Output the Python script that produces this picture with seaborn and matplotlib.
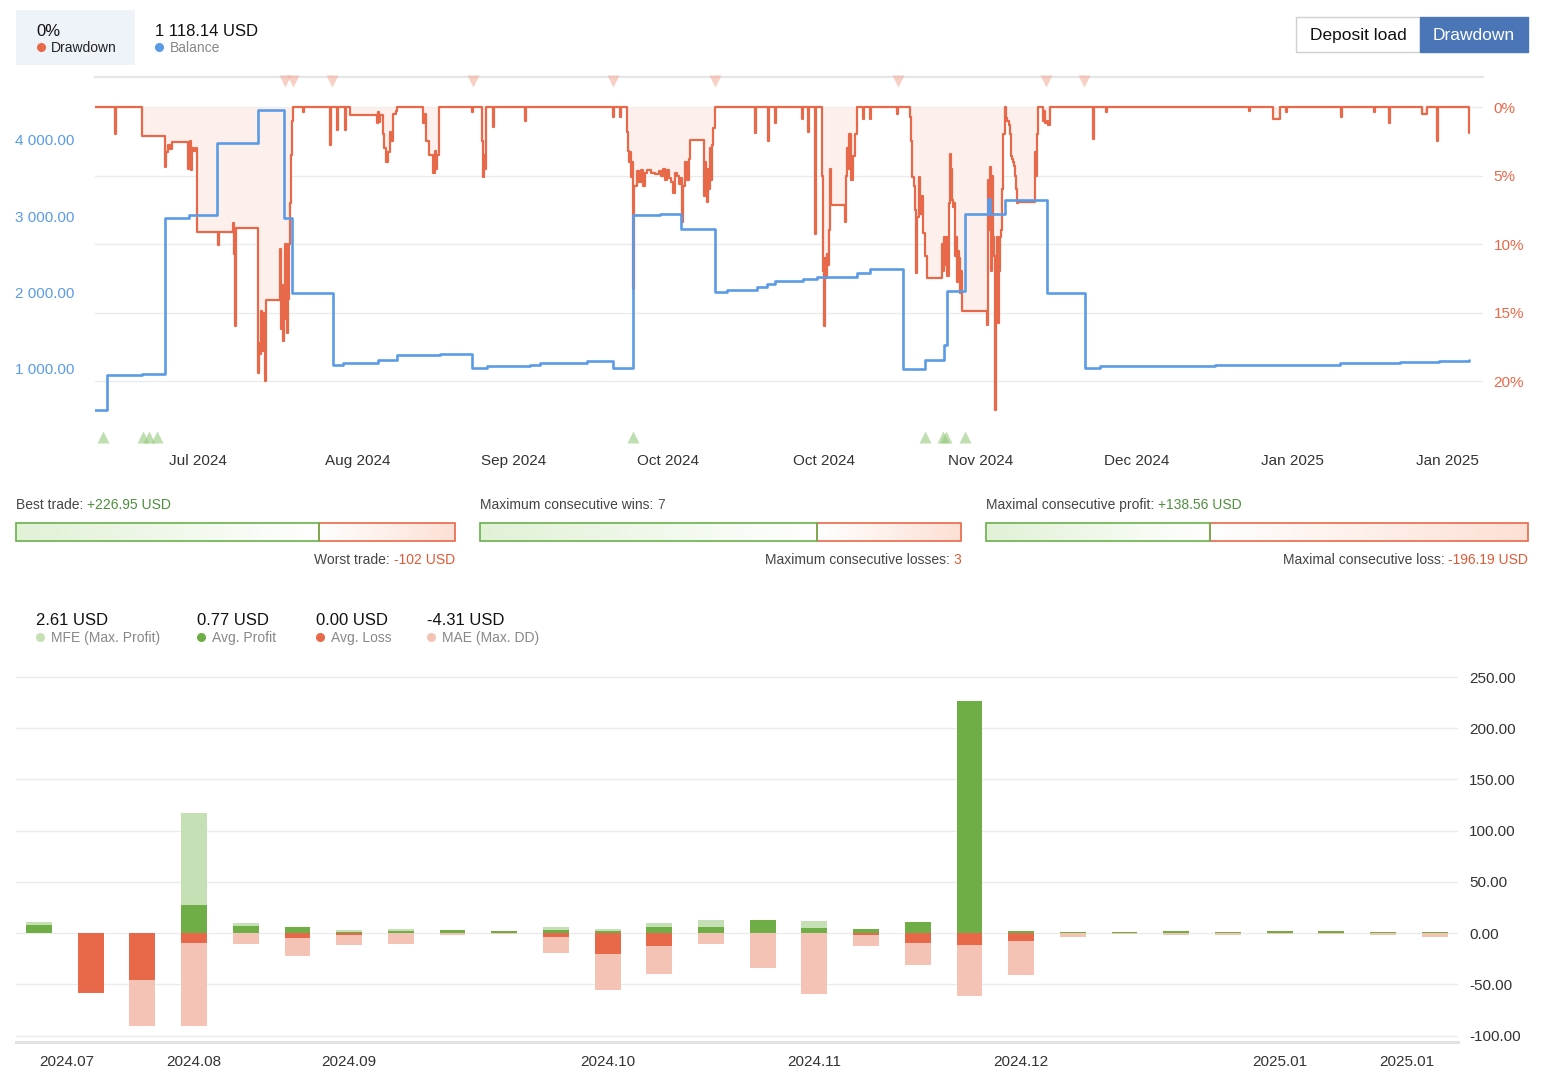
import numpy as np
import matplotlib
matplotlib.use("Agg")
import matplotlib.pyplot as plt
import matplotlib.transforms as mtransforms
from matplotlib.lines import Line2D
from matplotlib.patches import Rectangle
from matplotlib.text import Annotation
from matplotlib.colors import LinearSegmentedColormap
import seaborn as sns

# ---------------------------------------------------------------- data
# Top chart: position along the test period (time index) -> balance (USD)
balance_t = [0, 6, 23.5, 35, 47, 61, 81.5, 94.5, 98.5, 119, 124, 141.5, 151, 172.5,
             188.5, 196, 217.5, 222.5, 246, 259, 269, 282.5, 293, 310, 316, 331, 336,
             340, 354, 361, 381, 387.5, 404, 415, 424.5, 426, 435, 446.5, 447.5, 455,
             476, 495, 502.5, 560, 592.5, 622.5, 652.5, 672, 687]
balance_usd = [455, 922, 930, 2978, 3022, 3963, 4386, 2978, 1997, 1052, 1075, 1118,
               1183, 1196, 1009, 1039, 1052, 1074, 1096, 1009, 3013, 3026, 2830, 2011,
               2033, 2076, 2110, 2154, 2172, 2207, 2259, 2311, 996, 1118, 1314, 2020,
               3035, 3231, 3035, 3209, 1997, 1009, 1039, 1045, 1052, 1070, 1090, 1100, 1110]

# Top chart: drawdown (%) series, (time index, drawdown %)
drawdown_points = [
    (0, 0), (10, 1.94), (10.5, 0), (23.7, 2.1),
    (35, 4.4), (35.5, 3.3), (36.5, 2.8), (37.5, 3.1), (38.5, 2.55),
    (46.7, 4.5), (47.5, 2.5), (48, 4.6), (48.5, 3.0), (49.5, 3.2), (50.3, 3.0),
    (50.8, 9.1), (61.3, 10.1), (61.8, 9.1),
    (68.8, 8.5), (69.3, 10.7), (70, 16.0), (70.5, 8.8),
    (81.3, 19.4), (82, 17.2), (82.5, 18.0), (83, 14.9), (83.5, 17.8), (84, 15.0), (85, 20.0), (85.5, 14.1),
    (92.5, 10.4), (93, 16.2), (93.5, 13.0), (94, 17.1), (94.5, 15.5), (95, 10.0), (96, 16.5),
    (96.5, 14.0), (97, 10.0), (97.5, 7.0), (98, 3.5), (98.5, 1.0), (99, 0),
    (104.2, 0.4), (104.7, 0), (117.5, 2.8), (118, 0), (120.8, 1.7), (121.3, 0),
    (125, 1.7), (125.5, 0), (127.5, 0.56),
    (140.8, 1.2), (141.5, 0.4), (142, 1.1), (142.5, 0.6), (143.8, 2.0), (144.5, 3.0), (145.5, 4.0),
    (146.5, 3.3), (147.5, 1.8), (148, 2.5), (149, 0.5), (150.3, 0.3), (150.8, 0),
    (164.2, 1.2), (165, 0.5), (165.5, 2.5), (167, 3.5), (169.2, 4.85), (170, 3.2), (170.5, 4.5),
    (171, 3.5), (172, 0),
    (188.3, 0.4), (188.8, 0), (193.3, 2.5), (194, 5.1), (194.5, 3.5), (195, 4.5), (195.5, 0),
    (199.2, 1.45), (199.7, 0), (215, 1.0), (215.5, 0),
    (258.8, 0.75), (259.3, 0), (262.5, 0.75), (263, 0),
    (265.8, 1.8), (266.5, 3.2), (267, 4.0), (267.5, 3.3), (268, 5.1), (268.5, 4.0), (269, 13.3), (269.5, 5.8),
    (271, 4.7), (272, 5.5), (273, 4.6), (274, 5.8), (275, 4.8), (276, 4.6), (278, 4.8), (280, 4.9),
    (282, 4.7), (283, 5.0), (284, 4.5), (285, 5.3), (286, 4.6), (287, 5.2), (288, 5.5), (289, 6.3),
    (290, 4.8), (291, 5.0), (292, 5.6), (293, 5.2),
    (293.3, 8.4), (294, 5.8), (295, 4.0), (296, 5.3), (297, 3.8), (297.5, 2.4),
    (304.5, 6.5), (305, 4.0), (305.5, 5.5), (306, 6.9), (306.5, 4.5), (307, 6.0), (307.5, 3.0),
    (308, 5.3), (308.5, 2.8), (309, 1.5), (310, 0),
    (330, 1.9), (330.5, 0), (336.7, 2.5), (337.2, 0), (340, 1.2), (340.5, 0),
    (353.3, 0.85), (353.8, 0), (356.7, 1.8), (357.2, 0), (360, 9.3), (360.5, 0),
    (363.3, 0.6), (363.5, 5.0), (364, 12.0), (364.5, 16.0), (365, 11.0), (365.5, 12.5), (366, 10.7),
    (366.5, 11.5), (367, 9.0), (367.5, 4.5), (368, 7.15),
    (375, 8.4), (375.5, 5.0), (376, 3.0), (376.5, 4.5), (377, 2.0), (378, 5.3), (379, 3.6), (380, 2.0), (381, 0),
    (384.2, 0.85), (384.7, 0), (387.5, 0.85), (388, 0), (400.8, 0.5), (401.3, 0),
    (407.5, 0.7), (408, 2.5), (408.5, 5.1), (409.5, 5.8), (410, 7.5), (410.5, 12.1), (411, 8.0),
    (412, 5.1), (412.5, 7.8), (413, 6.5), (414, 9.2), (415, 10.9), (416, 12.5),
    (423.3, 10.0), (424, 12.0), (424.5, 9.5), (425, 11.5), (425.5, 9.5), (426, 12.3), (427, 7.0),
    (427.5, 3.4), (428, 4.5), (428.5, 6.8), (429, 7.3), (429.5, 7.0), (430, 10.9), (430.5, 9.5),
    (431, 12.8), (431.5, 10.5), (432, 11.0), (432.5, 13.6), (433, 12.0), (433.5, 14.9),
    (445.8, 15.9), (446.3, 5.3), (446.8, 9.0), (447.3, 4.4), (447.8, 12.0), (448.3, 5.0), (448.8, 9.5),
    (449.3, 10.9), (450, 22.1), (450.5, 15.0), (451, 9.5), (451.5, 15.8), (452, 12.0), (452.5, 9.5),
    (453, 9.0), (453.5, 6.0), (454, 2.0), (455, 0),
    (455.5, 0.8), (456, 1.0), (457, 1.3), (457.5, 2.0), (458, 3.6), (458.5, 3.8), (459, 4.0),
    (459.5, 4.3), (460, 5.0), (460.5, 6.0), (461, 7.0), (461.5, 6.9),
    (470.2, 3.3), (470.7, 5.0), (471.2, 2.0), (471.7, 0),
    (474.2, 1.0), (474.7, 0.3), (475.2, 1.2), (476, 1.0), (476.5, 1.3), (477.5, 0),
    (499, 2.3), (499.5, 0), (505.5, 0.4), (506, 0), (577.1, 0.3), (577.6, 0),
    (589, 0.85), (592.7, 0), (595.5, 0.4), (596, 0), (623, 0.75), (623.5, 0),
    (639.6, 0.4), (640.1, 0), (646.9, 1.2), (647.4, 0), (663.4, 0.5), (666.2, 0),
    (670.8, 2.5), (671.3, 0), (686.5, 0), (687, 1.9),
]

# trade markers (time index)
exit_marks_t = [95, 98.9, 118.7, 188.9, 259.2, 310, 401.7, 475.7, 494.5]
entry_marks_t = [3.8, 24.2, 27, 30.8, 269.2, 415, 424.2, 425.5, 435]

top_tick_pos = [51.5, 131.5, 209.5, 286.5, 364.5, 443, 521, 598.5, 676]
top_tick_labels = ["Jul 2024", "Aug 2024", "Sep 2024", "Oct 2024", "Oct 2024",
                   "Nov 2024", "Dec 2024", "Jan 2025", "Jan 2025"]
balance_ticks = [1000, 2000, 3000, 4000]
drawdown_ticks = [0, 5, 10, 15, 20]

header_drawdown = "0%"
header_balance = "1 118.14 USD"

# statistics
best_trade = 226.95
worst_trade = -102
max_cons_wins = 7
max_cons_losses = 3
max_cons_profit = 138.56
max_cons_loss = -196.19

# bottom chart: weekly MFE / average profit / average loss / MAE (USD)
mfe = [10.7, 0, 0, 117.2, 9.8, 6.2, 3.3, 4.2, 3.3, 2.0, 5.9, 4.2, 9.8, 13.0,
       13.0, 12.0, 3.9, 11.1, 226.9, 1.6, 1.3, 0.7, 1.6, 1.0, 2.0, 1.6, 0.7, 1.0]
avg_profit = [7.5, 0, 0, 27.0, 6.5, 6.2, 1.3, 2.3, 3.3, 2.0, 2.9, 2.3, 6.2, 6.2,
              13.0, 4.6, 3.9, 11.1, 226.9, 1.6, 1.3, 0.7, 1.6, 1.0, 2.0, 1.6, 0.7, 1.0]
avg_loss = [0, -58.0, -45.5, -9.5, 0, -4.6, -1.6, 0, 0, 0, -3.9, -20.2, -13.0, 0,
            0, 0, -2.0, -10.1, -11.4, -8.1, 0, 0, 0, 0, 0, 0, 0, 0]
mae = [0, -58.0, -90.5, -90.5, -10.7, -22.8, -11.4, -10.4, -2.0, -1.0, -19.5, -56.0,
       -40.0, -10.7, -33.9, -59.2, -12.4, -31.3, -61.8, -40.7, -3.9, -0.7, -2.3, -2.3,
       -1.0, -1.3, -2.3, -4.2]
week_tick_idx = [0, 3, 6, 11, 15, 19, 24, 27]
week_tick_labels = ["2024.07", "2024.08", "2024.09", "2024.10", "2024.11",
                    "2024.12", "2025.01", "2025.01"]
bar_ticks = [-100, -50, 0, 50, 100, 150, 200, 250]
summary_values = ["2.61 USD", "0.77 USD", "0.00 USD", "-4.31 USD"]
summary_names = ["MFE (Max. Profit)", "Avg. Profit", "Avg. Loss", "MAE (Max. DD)"]

# ---------------------------------------------------------------- style
BLUE = "#5b9be6"
ORANGE = "#e8694a"
GREEN = "#6fae47"
LGREEN = "#c5e0b4"
PINK = "#f4c3b6"
TXT = "#444444"
GREY = "#888888"

sns.set_style("white")
plt.rcParams["font.family"] = ["Liberation Sans", "DejaVu Sans"]

W, H = 1546, 1079
fig = plt.figure(figsize=(W / 100, H / 100), dpi=100)
fig.patch.set_facecolor("white")


def fx(px):
    return px / W


def fy(py):
    return 1 - py / H


def rect(l, t, r, b):
    return [l / W, 1 - b / H, (r - l) / W, (b - t) / H]


def dot(px, py, color):
    fig.add_artist(Line2D([fx(px)], [fy(py)], marker="o", ms=5.5, color=color,
                          lw=0, transform=fig.transFigure))


def fmt_thousands(v):
    return f"{v:,.2f}".replace(",", " ")


# ---------------------------------------------------------------- header
fig.add_artist(Rectangle((fx(16), fy(65)), fx(135) - fx(16), fy(10) - fy(65),
                         transform=fig.transFigure, fc="#eef2f9", ec="none"))
fig.text(fx(36), fy(31.5), header_drawdown, fontsize=12, color="#111111", va="center")
dot(41, 47, ORANGE)
fig.text(fx(51), fy(48), "Drawdown", fontsize=10, color="#222222", va="center")
fig.text(fx(155), fy(31.5), header_balance, fontsize=12, color="#111111", va="center")
dot(159, 47, BLUE)
fig.text(fx(170), fy(48), "Balance", fontsize=10, color=GREY, va="center")

# buttons
fig.add_artist(Rectangle((fx(1296), fy(52)), fx(1420) - fx(1296), fy(17) - fy(52),
                         transform=fig.transFigure, fc="white", ec="#d0d0d0", lw=1))
fig.text(fx(1358), fy(35.5), "Deposit load", fontsize=12.5, color="#111111",
         ha="center", va="center")
fig.add_artist(Rectangle((fx(1420), fy(52)), fx(1528) - fx(1420), fy(17) - fy(52),
                         transform=fig.transFigure, fc="#4a76b8", ec="#4a76b8", lw=1))
fig.text(fx(1474), fy(35.5), "Drawdown", fontsize=12.5, color="white",
         ha="center", va="center")

# ---------------------------------------------------------------- top chart
ax_dd = fig.add_axes(rect(95, 77, 1483, 445))
ax_bal = ax_dd.twinx()

dd_t = [p[0] for p in drawdown_points]
dd_v = [p[1] for p in drawdown_points]

ax_dd.fill_between(dd_t, 0, dd_v, step="post", color="#fdf0ec", lw=0, zorder=1)
sns.lineplot(x=dd_t, y=dd_v, ax=ax_dd, estimator=None, sort=False,
             drawstyle="steps-post", color=ORANGE, lw=1.6, zorder=3)
sns.lineplot(x=balance_t, y=balance_usd, ax=ax_bal, estimator=None, sort=False,
             drawstyle="steps-post", color=BLUE, lw=1.9, zorder=3)

ax_dd.set_xlim(0, 694)
ax_dd.set_ylim(24.67, -2.19)
ax_bal.set_ylim(0, 4825)

ax_dd.yaxis.tick_right()
ax_dd.set_yticks(drawdown_ticks, [f"{v}%" for v in drawdown_ticks])
ax_dd.tick_params(axis="y", length=0, pad=7.5, labelsize=11, labelcolor=ORANGE)
ax_bal.yaxis.tick_left()
ax_bal.set_yticks(balance_ticks, [fmt_thousands(v) for v in balance_ticks])
ax_bal.tick_params(axis="y", length=0, pad=15, labelsize=11, labelcolor=BLUE)

ax_dd.set_xticks(top_tick_pos, top_tick_labels)
ax_dd.tick_params(axis="x", length=0, pad=6.5, labelsize=11, labelcolor="#333333")
ax_dd.grid(axis="y", color="#ebebeb", lw=1)
ax_dd.grid(axis="x", visible=False)
ax_bal.grid(False)
ax_dd.set_axisbelow(True)
for s in ["left", "right", "bottom"]:
    ax_dd.spines[s].set_visible(False)
ax_dd.spines["top"].set_color("#e6e6e6")
ax_dd.spines["top"].set_linewidth(1.6)
for s in ax_bal.spines.values():
    s.set_visible(False)
ax_dd.set_xlabel("")
ax_dd.set_ylabel("")
ax_bal.set_ylabel("")

blend = mtransforms.blended_transform_factory(ax_dd.transData, ax_dd.transAxes)
ax_dd.plot(exit_marks_t, [0.988] * len(exit_marks_t), transform=blend, ls="none",
           marker="v", ms=8.5, color="#f2a994", alpha=0.55, mec="none", clip_on=False, zorder=5)
ax_dd.plot(entry_marks_t, [0.022] * len(entry_marks_t), transform=blend, ls="none",
           marker="^", ms=8.5, color="#94c97c", alpha=0.6, mec="none", clip_on=False, zorder=5)

# ---------------------------------------------------------------- ratio bars
cmap_g = LinearSegmentedColormap.from_list("g", ["#e1f1d6", "#ffffff"])
cmap_r = LinearSegmentedColormap.from_list("r", ["#ffffff", "#fde0d5"])
grad = np.linspace(0, 1, 256).reshape(1, -1)


def ratio_bar(l, r, good, bad):
    ax = fig.add_axes(rect(l, 523, r, 541))
    total = good + bad
    ax.imshow(grad, extent=(0, good, -0.5, 0.5), aspect="auto", cmap=cmap_g, zorder=1)
    ax.imshow(grad, extent=(good, total, -0.5, 0.5), aspect="auto", cmap=cmap_r, zorder=1)
    ax.barh(0, bad, left=good, height=1, fc="none", ec=ORANGE, lw=1.2, clip_on=False, zorder=2)
    ax.barh(0, good, left=0, height=1, fc="none", ec="#6ab04c", lw=1.2, clip_on=False, zorder=3)
    ax.set_xlim(0, total)
    ax.set_ylim(-0.5, 0.5)
    ax.axis("off")


def label_left(px, py, label, value, vcolor):
    t1 = fig.text(fx(px), fy(py), label, ha="left", va="center", fontsize=10, color=TXT)
    fig.add_artist(Annotation(value, xy=(1, 0), xycoords=t1, ha="left", va="bottom",
                              fontsize=10, color=vcolor))


def label_right(px, py, label, value, vcolor):
    t1 = fig.text(fx(px), fy(py), value, ha="right", va="center", fontsize=10, color=vcolor)
    fig.add_artist(Annotation(label, xy=(0, 0), xycoords=t1, ha="right", va="bottom",
                              fontsize=10, color=TXT))


VGREEN = "#4f8f3c"
VRED = "#e05a38"
ratio_bar(16, 455, best_trade, abs(worst_trade))
label_left(16, 505, "Best trade: ", f"+{best_trade:.2f} USD", VGREEN)
label_right(455, 560, "Worst trade: ", f"{worst_trade} USD", VRED)

ratio_bar(480, 961, max_cons_wins, max_cons_losses)
label_left(480, 505, "Maximum consecutive wins: ", f"{max_cons_wins}", "#555555")
label_right(961, 560, "Maximum consecutive losses: ", f"{max_cons_losses}", VRED)

ratio_bar(986, 1528, max_cons_profit, abs(max_cons_loss))
label_left(986, 505, "Maximal consecutive profit: ", f"+{max_cons_profit:.2f} USD", VGREEN)
label_right(1528, 560, "Maximal consecutive loss: ", f"{max_cons_loss:.2f} USD", VRED)

# ---------------------------------------------------------------- bottom legend
leg_x = [36, 197, 316, 427]
leg_c = [LGREEN, GREEN, ORANGE, PINK]
for x, v, n, c in zip(leg_x, summary_values, summary_names, leg_c):
    fig.text(fx(x), fy(620.5), v, fontsize=12, color="#111111", va="center")
    dot(x + 4, 637, c)
    fig.text(fx(x + 15), fy(638), n, fontsize=10, color=GREY, va="center")

# ---------------------------------------------------------------- bottom chart
ax_b = fig.add_axes(rect(16, 676, 1458, 1042))
weeks = list(range(len(mfe)))
common = dict(width=0.5, saturation=1, errorbar=None, ax=ax_b, linewidth=0)
sns.barplot(x=weeks, y=mfe, color=LGREEN, zorder=2, **common)
sns.barplot(x=weeks, y=avg_profit, color=GREEN, zorder=3, **common)
sns.barplot(x=weeks, y=mae, color=PINK, zorder=2, **common)
sns.barplot(x=weeks, y=avg_loss, color=ORANGE, zorder=3, **common)

ax_b.set_xlim(-0.445, 27.45)
ax_b.set_ylim(-106.3, 251)
ax_b.yaxis.tick_right()
ax_b.set_yticks(bar_ticks, [f"{v:.2f}" for v in bar_ticks])
ax_b.tick_params(axis="y", length=0, pad=8, labelsize=11, labelcolor="#333333")
ax_b.set_xticks(week_tick_idx, week_tick_labels)
ax_b.tick_params(axis="x", length=5, width=1, color="#dddddd", pad=4, labelsize=11,
                 labelcolor="#333333")
xt = ax_b.get_xticklabels()
xt[0].set_ha("left")
xt[-1].set_ha("right")
ax_b.grid(axis="y", color="#ebebeb", lw=1)
ax_b.grid(axis="x", visible=False)
ax_b.set_axisbelow(True)
for s in ["left", "right", "top"]:
    ax_b.spines[s].set_visible(False)
ax_b.spines["bottom"].set_color("#e2e2e2")
ax_b.spines["bottom"].set_linewidth(2.2)
ax_b.set_xlabel("")
ax_b.set_ylabel("")

fig.savefig("out.png", dpi=100, facecolor="white")
